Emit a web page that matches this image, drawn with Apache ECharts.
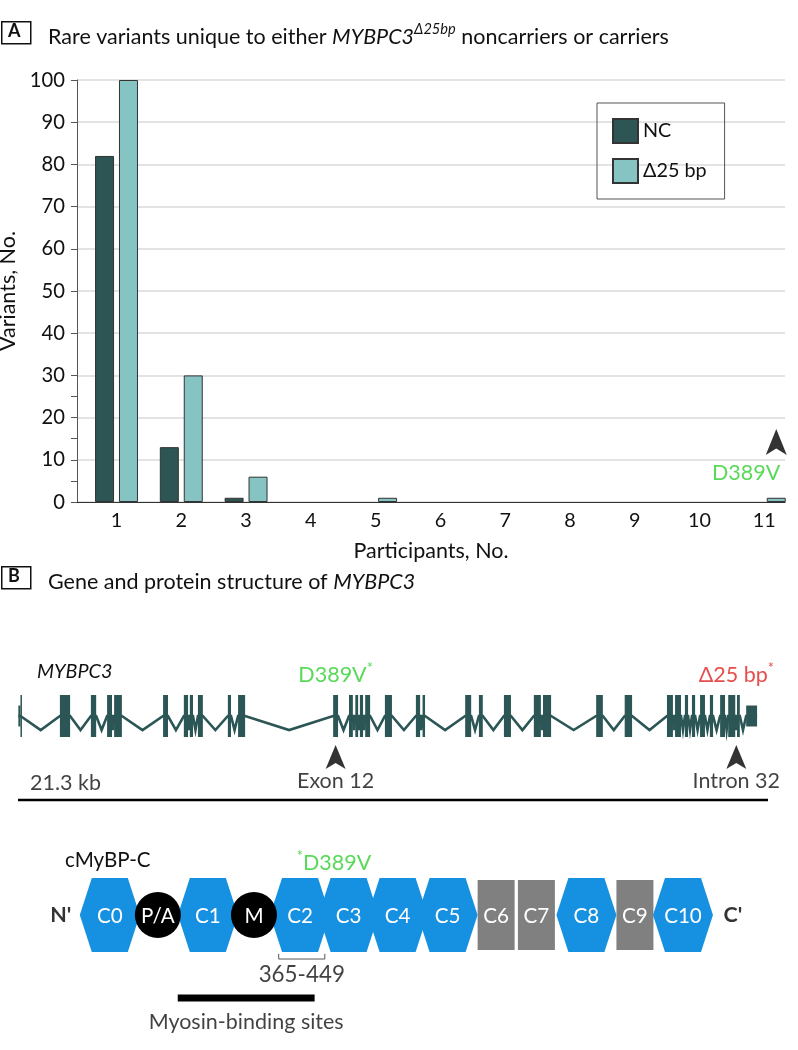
<!DOCTYPE html>
<html><head><meta charset="utf-8">
<script src="https://cdn.jsdelivr.net/npm/echarts@6/dist/echarts.min.js"></script>
<style>html,body{margin:0;padding:0;background:#fff}#c{width:798px;height:1050px}</style>
</head><body><div id="c"></div>
<script>
// ---------- Panel A data ----------
const participants = [1, 2, 3, 4, 5, 6, 7, 8, 9, 10, 11];
const ncVariants   = [82, 13, 1, 0, 0, 0, 0, 0, 0, 0, 0];
const d25Variants  = [100, 30, 6, 0, 1, 0, 0, 0, 0, 0, 1];
const seriesNames  = ['NC', 'Δ25 bp'];
const minorTicks   = [5, 15, 25];
const annotAParticipant = 11;
const annotALabel = 'D389V';

// ---------- Panel B gene data (kb) ----------
const geneLengthKb = 21.3;
const exonStartKb = [0.01,0.07,1.19,2.07,2.53,2.73,4.12,4.71,4.88,5.11,5.96,6.25,8.95,9.40,9.58,9.71,9.86,10.42,11.30,11.49,12.70,13.09,13.80,14.65,14.91,16.42,17.23,18.43,18.66,18.94,19.14,19.37,19.65,19.94,20.17,20.42,20.68];
const exonEndKb   = [0.07,0.10,1.48,2.22,2.67,2.95,4.26,4.83,4.97,5.25,6.05,6.45,9.09,9.51,9.66,9.80,10.00,10.62,11.42,11.56,12.87,13.20,14.00,14.85,15.14,16.61,17.44,18.60,18.83,19.03,19.23,19.51,19.74,20.08,20.37,20.50,20.99];
const exonHeight  = [0.5,1,1,1,1,1,1,1,1,1,1,1,1,1,1,1,1,1,1,1,1,1,1,1,1,1,1,1,1,1,1,1,1,1,1,1,0.5];
const geneMarkKb     = [9.02, 20.40];
const geneMarkTop    = ['D389V', 'Δ25 bp'];
const geneMarkColor  = ['#2fd02f', '#e0201f'];
const geneMarkBottom = ['Exon 12', 'Intron 32'];

// ---------- Panel B protein data (domain units) ----------
const domainNames = ['C0','P/A','C1','M','C2','C3','C4','C5','C6','C7','C8','C9','C10'];
const domainPos   = [0, 0.99, 2.02, 2.97, 3.92, 4.92, 5.93, 6.96, 7.96, 8.79, 9.82, 10.82, 11.81];
const domainShape = ['hex','circle','hex','circle','hex','hex','hex','hex','rect','rect','hex','rect','hex'];
const terminiNames = ["N'", "C'"];
const terminiPos   = [-1.01, 12.84];
const bracketLabel = '365-449';
const bracketRange = [3.48, 4.43];
const myosinLabel  = 'Myosin-binding sites';
const myosinRange  = [1.40, 4.22];
const proteinVariantPos = 4.62;

// ---------- styles ----------
const FONT = 'Lato, "Noto Sans", sans-serif';
const TXT = '#111';
const NC_COLOR = '#2c5554', D25_COLOR = '#86c4c3', GREEN = '#2fd02f';
const GENE = '#2b5655', BLUE = '#1690e0', GRAY = '#808080';
const ARROW = 'path://M0,0 L10,24 L0,18 L-10,24 Z';

function barItems(values) {
  return participants.map((p, i) => values[i] === 0
    ? {value: [p, values[i]], itemStyle: {borderWidth: 0}}
    : {value: [p, values[i]]});
}
const ncData  = barItems(ncVariants);
const d25Data = barItems(d25Variants);

const intronPts = [];
for (let i = 0; i < exonStartKb.length; i++) {
  if (i > 0) {
    const gap = exonStartKb[i] - exonEndKb[i - 1];
    if (gap > 0.015) intronPts.push([(exonEndKb[i - 1] + exonStartKb[i]) / 2, -0.67]);
  }
  intronPts.push([exonStartKb[i], 0]);
  intronPts.push([exonEndKb[i], 0]);
}
const exonData = exonStartKb.map((s, i) => [s, exonEndKb[i], exonHeight[i]]);
const domainData = domainPos.map((p, i) => [p, 0, i]);

const chart = echarts.init(document.getElementById('c'), null, {renderer: 'canvas'});

const base = {fontFamily: FONT, color: TXT, fontWeight: 'normal'};
const option = {
  animation: false,
  backgroundColor: '#fff',
  textStyle: {fontFamily: FONT},
  title: [
    {left: 43, top: 17,
     text: '{a|Rare variants unique to either }{i|MYBPC3}{s|Δ25bp}{a| noncarriers or carriers}',
     textStyle: {fontWeight: 'normal', rich: {
       a: Object.assign({fontSize: 21.5, lineHeight: 30}, base),
       i: Object.assign({fontSize: 21.5, lineHeight: 30, fontStyle: 'italic'}, base),
       s: Object.assign({fontSize: 14.6, lineHeight: 18, fontStyle: 'italic', verticalAlign: 'top'}, base)
     }}},
    {left: 43, top: 562,
     text: '{a|Gene and protein structure of }{i|MYBPC3}',
     textStyle: {fontWeight: 'normal', rich: {
       a: Object.assign({fontSize: 21.5, lineHeight: 30}, base),
       i: Object.assign({fontSize: 21.5, lineHeight: 30, fontStyle: 'italic'}, base)
     }}}
  ],
  legend: {
    orient: 'vertical', left: 597, top: 103, padding: [15, 18, 15, 15],
    itemWidth: 25, itemHeight: 24, itemGap: 14, icon: 'rect',
    borderColor: '#555', borderWidth: 1, selectedMode: false,
    textStyle: {fontSize: 19.8, color: TXT, fontFamily: FONT},
    data: seriesNames
  },
  graphic: [
    {type: 'rect', left: 1, top: 21, shape: {width: 29, height: 22}, style: {fill: '#fff', stroke: '#111', lineWidth: 1.5}},
    {type: 'text', left: 8, top: 22, style: {text: 'A', font: 'bold 18px ' + FONT, fill: TXT}},
    {type: 'rect', left: 1, top: 566, shape: {width: 29, height: 22}, style: {fill: '#fff', stroke: '#111', lineWidth: 1.5}},
    {type: 'text', left: 8, top: 567, style: {text: 'B', font: 'bold 18px ' + FONT, fill: TXT}},
    {type: 'text', left: 37, top: 662, style: {text: 'MYBPC3', font: 'italic 19.8px ' + FONT, fill: TXT}},
    {type: 'text', left: 65, top: 850, style: {text: 'cMyBP-C', font: '20.6px ' + FONT, fill: TXT}}
  ],
  grid: [
    {left: 77, right: 13, top: 80, height: 422, outerBoundsMode: 'none', containLabel: false},
    {left: 18, right: 30, top: 659.3, height: 144.9, outerBoundsMode: 'none', containLabel: false},
    {left: 37, right: 33, top: 878, height: 74, outerBoundsMode: 'none', containLabel: false}
  ],
  xAxis: [
    {type: 'value', gridIndex: 0, min: 0.39, max: 11.32,
     axisLine: {show: true, onZero: false, lineStyle: {color: '#333', width: 1.2}},
     axisTick: {show: false}, splitLine: {show: false},
     axisLabel: {customValues: participants, fontSize: 19.8, color: TXT, margin: 9, fontFamily: FONT},
     name: 'Participants, No.', nameLocation: 'middle', nameGap: 38,
     nameTextStyle: {fontSize: 21.5, color: TXT, fontFamily: FONT}},
    {type: 'value', gridIndex: 1, min: 0, max: geneLengthKb, show: false},
    {type: 'value', gridIndex: 2, min: -1.5, max: 13.5, show: false}
  ],
  yAxis: [
    {type: 'value', gridIndex: 0, min: 0, max: 100, interval: 10,
     axisLine: {show: true, onZero: false, lineStyle: {color: '#555', width: 1}},
     axisTick: {show: true, length: 6, lineStyle: {color: '#555'}},
     splitLine: {show: true, lineStyle: {color: '#dadada', width: 1.5}},
     axisLabel: {fontSize: 20.2, color: TXT, margin: 12, fontFamily: FONT},
     name: 'Variants, No.', nameLocation: 'middle', nameGap: 45,
     nameTextStyle: {fontSize: 21.5, color: TXT, fontFamily: FONT}},
    {type: 'value', gridIndex: 0, min: 0, max: 100, position: 'left',
     axisLine: {show: false}, axisLabel: {show: false}, splitLine: {show: false},
     axisTick: {show: true, length: 6, customValues: minorTicks, lineStyle: {color: '#555'}}},
    {type: 'value', gridIndex: 1, min: -4.2, max: 2.7, show: false},
    {type: 'value', gridIndex: 2, min: -1, max: 1, show: false}
  ],
  series: [
    {name: seriesNames[0], type: 'bar', xAxisIndex: 0, yAxisIndex: 0, data: ncData,
     barWidth: 19, barGap: '26%',
     itemStyle: {color: NC_COLOR, borderColor: '#333', borderWidth: 1}},
    {name: seriesNames[1], type: 'bar', xAxisIndex: 0, yAxisIndex: 0, data: d25Data,
     barWidth: 19, barGap: '26%',
     itemStyle: {color: D25_COLOR, borderColor: '#333', borderWidth: 1}},
    {type: 'scatter', xAxisIndex: 0, yAxisIndex: 0, clip: false, z: 5,
     data: [
       {value: [annotAParticipant, 14.2], symbol: ARROW, symbolSize: [21, 26], symbolOffset: [12, 0],
        itemStyle: {color: '#000'}},
       {value: [annotAParticipant, 6.9], symbol: 'circle', symbolSize: 0,
        label: {show: true, position: 'inside', align: 'right', offset: [16, 0],
                formatter: annotALabel, fontSize: 21.5, color: GREEN, fontFamily: FONT}}
     ]},
    {type: 'line', xAxisIndex: 1, yAxisIndex: 2, data: intronPts, showSymbol: false, clip: false,
     lineStyle: {color: GENE, width: 2.6, join: 'miter'}, z: 2, silent: true},
    {type: 'custom', xAxisIndex: 1, yAxisIndex: 2, data: exonData, z: 3,
     encode: {x: [0, 1], y: 2},
     renderItem: function (params, api) {
       const p1 = api.coord([api.value(0), api.value(2)]);
       const p2 = api.coord([api.value(1), -api.value(2)]);
       return {type: 'rect', shape: {x: p1[0], y: p1[1], width: Math.max(p2[0] - p1[0], 1.5), height: p2[1] - p1[1]},
               style: {fill: GENE}};
     }},
    {type: 'line', xAxisIndex: 1, yAxisIndex: 2, data: [[0, -4.0], [geneLengthKb, -4.0]], showSymbol: false, clip: false,
     lineStyle: {color: '#000', width: 2.5}, silent: true},
    {type: 'scatter', xAxisIndex: 1, yAxisIndex: 2, clip: false, z: 5,
     data: geneMarkKb.map((kb, i) => ({value: [kb, -1.95], symbol: ARROW, symbolSize: [20, 24],
       itemStyle: {color: '#000'},
       label: {show: true, position: 'bottom', distance: 1, formatter: geneMarkBottom[i], fontSize: 21.5, color: TXT, fontFamily: FONT}}))
       .concat(geneMarkKb.map((kb, i) => ({value: [kb, 1.95], symbol: 'circle', symbolSize: 0,
         label: {show: true, position: 'inside', formatter: '{m|' + geneMarkTop[i] + '}{s|*}',
           rich: {m: {fontSize: 21.5, color: geneMarkColor[i], fontFamily: FONT, lineHeight: 28},
                  s: {fontSize: 14.6, color: geneMarkColor[i], fontFamily: FONT, lineHeight: 16, verticalAlign: 'top'}}}})))
       .concat([{value: [0, -3.19], symbol: 'circle', symbolSize: 0,
         label: {show: true, position: 'inside', align: 'left', offset: [12, 0], formatter: geneLengthKb + ' kb',
           fontSize: 21.5, color: TXT, fontFamily: FONT}}])},
    {type: 'custom', xAxisIndex: 2, yAxisIndex: 3, data: domainData, z: 3,
     encode: {x: 0, y: 1},
     renderItem: function (params, api) {
       const c = api.coord([api.value(0), 0]);
       const idx = api.value(2);
       const shape = domainShape[idx];
       const x = c[0], y = c[1];
       let el;
       if (shape === 'hex') {
         el = {type: 'polygon', z2: 1, shape: {points: [[x - 30, y], [x - 18, y - 37], [x + 18, y - 37], [x + 30, y], [x + 18, y + 37], [x - 18, y + 37]]},
               style: {fill: BLUE}};
       } else if (shape === 'circle') {
         el = {type: 'circle', z2: 10, shape: {cx: x, cy: y, r: 23}, style: {fill: '#000'}};
       } else {
         el = {type: 'rect', z2: 1, shape: {x: x - 18.5, y: y - 35, width: 37, height: 70}, style: {fill: GRAY}};
       }
       const t = {type: 'text', z2: 20, style: {text: domainNames[idx], x: x, y: y + 1, align: 'center', verticalAlign: 'middle',
                  fill: '#fff', font: '20.6px ' + FONT}};
       return {type: 'group', children: [el, t]};
     }},
    {type: 'scatter', xAxisIndex: 2, yAxisIndex: 3, clip: false, z: 5, symbolSize: 0,
     data: terminiPos.map((p, i) => ({value: [p, 0],
       label: {show: true, position: 'inside', formatter: terminiNames[i], fontSize: 21.5, color: '#000', fontWeight: 'bold', fontFamily: FONT}}))
       .concat([
         {value: [proteinVariantPos, 1.41],
          label: {show: true, position: 'inside', formatter: '{s|*}{m|' + geneMarkTop[0] + '}',
            rich: {m: {fontSize: 21.5, color: GREEN, fontFamily: FONT, lineHeight: 28},
                   s: {fontSize: 14.6, color: GREEN, fontFamily: FONT, lineHeight: 16, verticalAlign: 'top'}}}},
         {value: [(bracketRange[0] + bracketRange[1]) / 2, -1.62],
          label: {show: true, position: 'inside', formatter: bracketLabel, fontSize: 22.4, color: TXT, fontFamily: FONT}},
         {value: [(myosinRange[0] + myosinRange[1]) / 2, -2.89],
          label: {show: true, position: 'inside', formatter: myosinLabel, fontSize: 21.5, color: TXT, fontFamily: FONT}}
       ])},
    {type: 'line', xAxisIndex: 2, yAxisIndex: 3, showSymbol: false, clip: false, silent: true,
     data: [[bracketRange[0], -1.05], [bracketRange[0], -1.19], [bracketRange[1], -1.19], [bracketRange[1], -1.05]],
     lineStyle: {color: '#555', width: 1}},
    {type: 'line', xAxisIndex: 2, yAxisIndex: 3, showSymbol: false, clip: false, silent: true,
     data: [[myosinRange[0], -2.24], [myosinRange[1], -2.24]],
     lineStyle: {color: '#000', width: 7, cap: 'butt'}}
  ]
};
chart.setOption(option);
</script>
</body></html>
